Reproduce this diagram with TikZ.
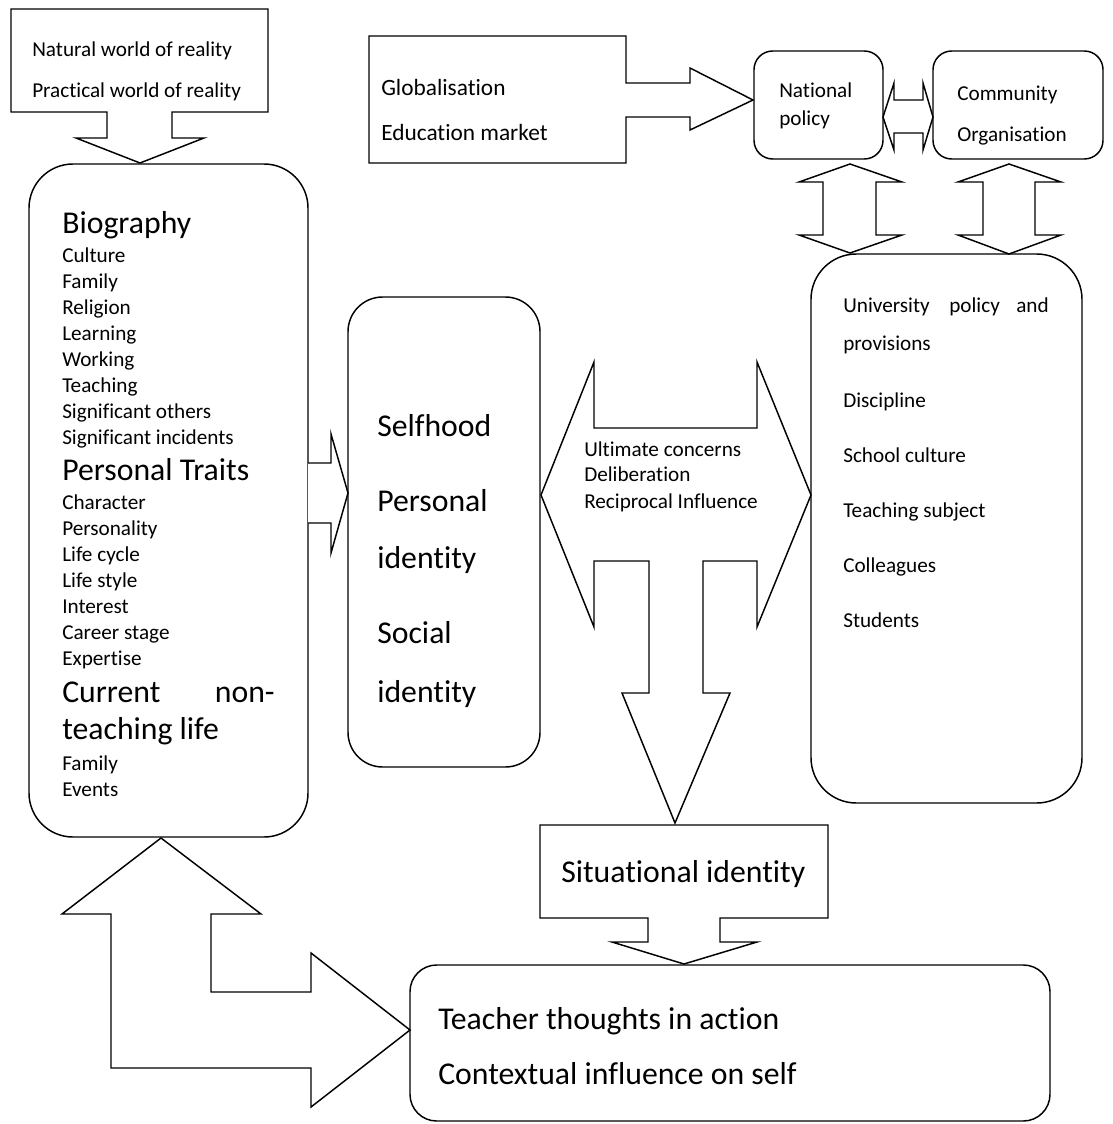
\documentclass[tikz,border=0pt]{standalone}
\usepackage{fontspec}
\setmainfont[Ligatures={NoCommon,NoContextual}]{Carlito}
\usetikzlibrary{fit}

\tikzset{
  outline/.style={draw=black, line width=1.1pt, line join=miter, fill=white},
  rbox/.style={draw=black, line width=1.1pt, inner sep=0pt, rounded corners=#1},
  txt/.style={anchor=base west, inner sep=0pt, font=\fontsize{15.9}{19}\selectfont},
  txtr/.style={anchor=base east, inner sep=0pt, font=\fontsize{15.9}{19}\selectfont},
  big/.style={anchor=base west, inner sep=0pt, font=\fontsize{23.8}{29}\selectfont},
  bigr/.style={anchor=base east, inner sep=0pt, font=\fontsize{23.8}{29}\selectfont},
  med/.style={anchor=base west, inner sep=0pt, font=\fontsize{17.5}{21}\selectfont},
}

\begin{document}
\begin{tikzpicture}[x=0.75pt, y=-0.75pt]
\useasboundingbox (0,0) rectangle (1113,1124);

% ---- rounded boxes ----
\node[rbox=33pt, fit={(29,164) (308,837)}] (bio) {};
\node[rbox=26pt, fit={(348,297) (540,767)}] (self) {};
\node[rbox=34pt, fit={(811,254) (1082,803)}] (context) {};
\node[rbox=14pt, fit={(754,51) (883,159)}] (national) {};
\node[rbox=14pt, fit={(933,51) (1103,159)}] (community) {};
\node[rbox=20pt, fit={(410,965) (1050,1121)}] (action) {};

% ---- callout: reality ----
\draw[outline] (11,9) -- (268,9) -- (268,112) -- (172,112) -- (172,138) -- (204,138)
  -- (140,163) -- (76,138) -- (107,138) -- (107,112) -- (11,112) -- cycle;
\node[txt] (nat) at (32,57) {Natural world of reality};
\node[txt] (prac) at (32,98) {Practical world of reality};

% ---- callout: globalisation ----
\draw[outline] (369,36) -- (626,36) -- (626,83) -- (690,83) -- (690,68) -- (753,100)
  -- (690,130) -- (690,117) -- (626,117) -- (626,163) -- (369,163) -- cycle;
\node[med] (glob) at (381,95) {Globalisation};
\node[med] (market) at (381,140) {Education market};

% ---- callout: situational identity ----
\draw[outline] (540,825) -- (828,825) -- (828,918) -- (720,918) -- (720,942) -- (757,942)
  -- (684,964) -- (612,942) -- (648,942) -- (648,918) -- (540,918) -- cycle;
\node[big] (situ) at (561,882) {Situational identity};

% ---- block arrow: biography to selfhood ----
\draw[outline] (308,463) -- (331,463) -- (331,434) -- (348,493) -- (331,553)
  -- (331,523) -- (308,523);

% ---- block arrow: selfhood <-> context, with branch down ----
\draw[outline] (541,495) -- (594,362) -- (594,428) -- (757,428) -- (757,362) -- (811,495)
  -- (757,627) -- (757,561) -- (703,561) -- (703,693) -- (730,693) -- (675,823)
  -- (622,693) -- (649,693) -- (649,561) -- (594,561) -- (594,627) -- cycle;
\node[txt] (conc) at (584,456) {Ultimate concerns};
\node[txt] (delib) at (584,481) {Deliberation};
\node[txt] (recip) at (584,508) {Reciprocal Influence};

% ---- block arrow: national <-> community ----
\draw[outline] (883,117) -- (894,83) -- (894,100) -- (923,100) -- (923,83) -- (933,117)
  -- (923,150) -- (923,133) -- (894,133) -- (894,150) -- cycle;

% ---- block arrows: context <-> national, context <-> community ----
\draw[outline] (850,164) -- (902,182) -- (876,182) -- (876,235) -- (902,235) -- (850,253)
  -- (799,235) -- (823,235) -- (823,182) -- (799,182) -- cycle;
\draw[outline] (1009,164) -- (1061,182) -- (1035,182) -- (1035,235) -- (1061,235) -- (1009,254)
  -- (958,235) -- (983,235) -- (983,182) -- (958,182) -- cycle;

% ---- block arrow: biography <-> thoughts in action ----
\draw[outline] (161,838) -- (261,914) -- (211,914) -- (211,992) -- (311,992) -- (311,953)
  -- (410,1030) -- (311,1107) -- (311,1068) -- (111,1068) -- (111,914) -- (62,914) -- cycle;

% ---- texts: national / community ----
\node[txt] (nat1) at (779,98) {National};
\node[txt] (nat2) at (779,125) {policy};
\node[txt] (com1) at (957,100) {Community};
\node[txt] (com2) at (957,141) {Organisation};

% ---- texts: biography box ----
\node[big] (h1) at (62,233) {Biography};
\foreach \t [count=\i] in {Culture, Family, Religion, Learning, Working, Teaching,
    Significant others, Significant incidents}
  \node[txt] (b\i) at (62,{262+26*(\i-1)}) {\t};
\node[big] (h2) at (62,480) {Personal Traits};
\foreach \t [count=\i] in {Character, Personality, Life cycle, Life style, Interest,
    Career stage, Expertise}
  \node[txt] (p\i) at (62,{509+26*(\i-1)}) {\t};
\node[big] (h3a) at (62,702) {Current};
\node[bigr] (h3b) at (275,702) {non-};
\node[big] (h3c) at (62,739) {teaching life};
\node[txt] (c1) at (62,770) {Family};
\node[txt] (c2) at (62,796) {Events};

% ---- texts: selfhood box ----
\node[big] (s1) at (377,436) {Selfhood};
\node[big] (s2) at (377,511) {Personal};
\node[big] (s3) at (377,568) {identity};
\node[big] (s4) at (377,643) {Social};
\node[big] (s5) at (377,702) {identity};

% ---- texts: context box ----
\node[txt] (u1) at (843,312) {University};
\node[txt] (u2) at (949,312) {policy};
\node[txtr] (u3) at (1049,312) {and};
\node[txt] (u4) at (843,350) {provisions};
\node[txt] (r1) at (843,407) {Discipline};
\node[txt] (r2) at (843,462) {School culture};
\node[txt] (r3) at (843,517) {Teaching subject};
\node[txt] (r4) at (843,572) {Colleagues};
\node[txt] (r5) at (843,627) {Students};

% ---- texts: action box ----
\node[big] (a1) at (438,1029) {Teacher thoughts in action};
\node[big] (a2) at (438,1084) {Contextual influence on self};
\end{tikzpicture}
\end{document}
